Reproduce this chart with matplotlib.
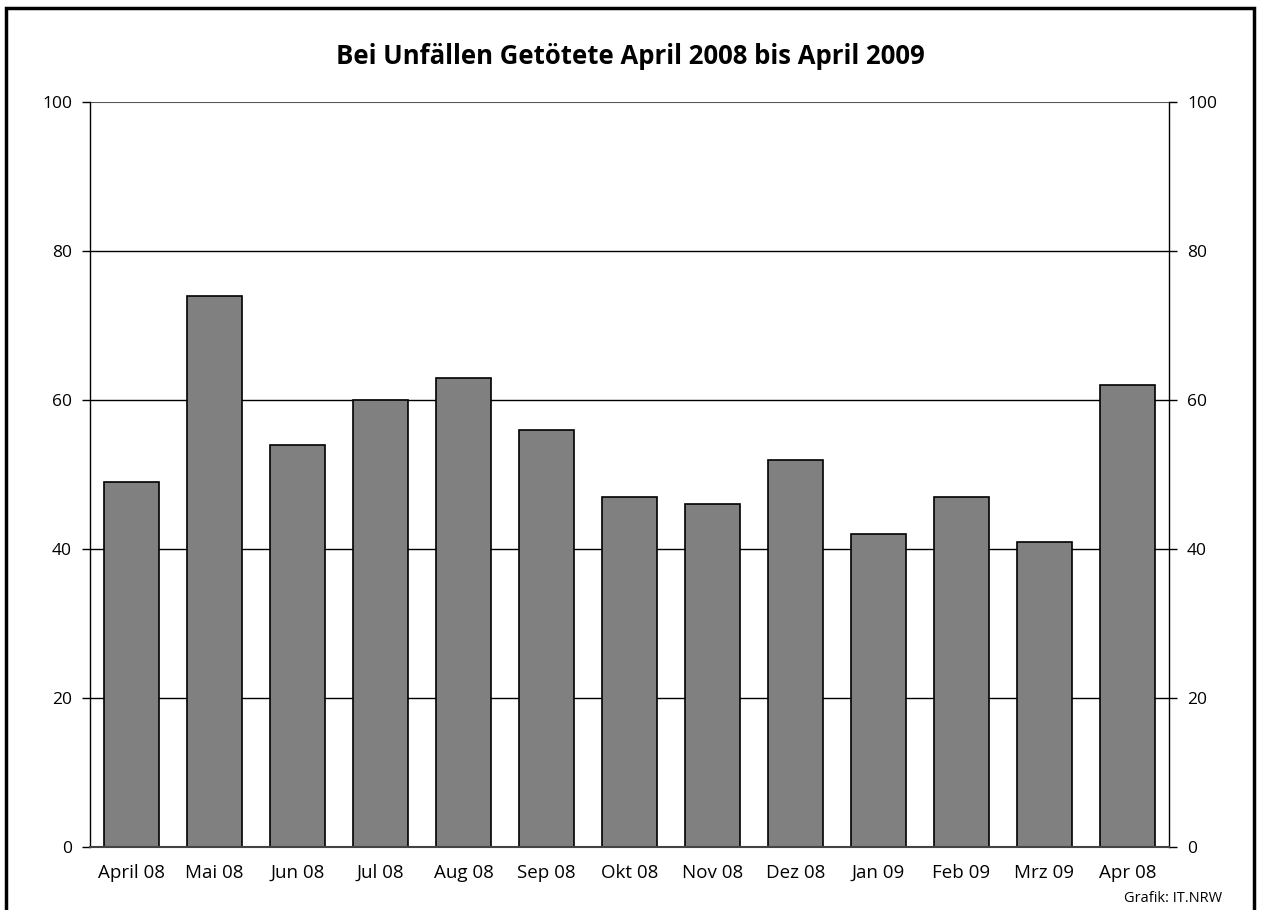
import matplotlib.pyplot as plt
from matplotlib.patches import Rectangle

months = ['April 08', 'Mai 08', 'Jun 08', 'Jul 08', 'Aug 08', 'Sep 08', 'Okt 08',
          'Nov 08', 'Dez 08', 'Jan 09', 'Feb 09', 'Mrz 09', 'Apr 08']
deaths = [49, 74, 54, 60, 63, 56, 47, 46, 52, 42, 47, 41, 62]
yticks = [0, 20, 40, 60, 80, 100]

plt.rcParams['font.family'] = ['Open Sans', 'DejaVu Sans']

W, H = 1272, 910
fig = plt.figure(figsize=(W / 100, H / 100), dpi=100)
ax = fig.add_axes([90 / W, 1 - 847 / H, (1169 - 90) / W, (847 - 102) / H])

# grid behind the bars
for v in yticks[1:-1]:
    ax.axhline(v, color='black', lw=1, zorder=0)
ax.axhline(100, color='#555555', lw=1.5, zorder=0)

x = range(len(months))
ax.bar(x, deaths, width=0.66, color='#808080', edgecolor='black', linewidth=1.2, zorder=2)

ax.set_xlim(-0.5, len(months) - 0.5)
ax.set_ylim(0, 100)
ax.set_xticks(list(x))
ax.set_xticklabels(months, fontsize=13.5)
ax.set_yticks(yticks)
ax.tick_params(axis='x', length=0, pad=12)
ax.tick_params(axis='y', length=6, width=1, direction='out', labelsize=12.5,
               left=True, right=True, labelleft=True, labelright=True, pad=7)
ax.spines['top'].set_visible(False)
ax.spines['bottom'].set_color('#444444')
ax.spines['bottom'].set_linewidth(1.5)
ax.spines['left'].set_linewidth(1)
ax.spines['right'].set_linewidth(1)

fig.text(630 / W, 1 - 57 / H, 'Bei Unfällen Getötete April 2008 bis April 2009',
         ha='center', va='center', fontsize=18.5, fontweight='bold')
fig.text(1222 / W, 1 - 898 / H, 'Grafik: IT.NRW', ha='right', va='center', fontsize=10.5)

# outer frame
fig.patches.append(Rectangle((6 / W, -0.05), (1254 - 6) / W, 1.05 - 8 / H,
                             transform=fig.transFigure, fill=False,
                             edgecolor='black', lw=2.5))

fig.savefig('out.png', dpi=100)
